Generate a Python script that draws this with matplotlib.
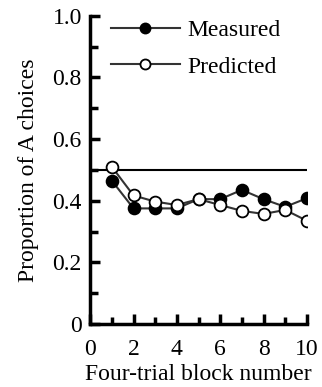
import matplotlib
matplotlib.use("Agg")
import matplotlib.pyplot as plt
from matplotlib.ticker import MultipleLocator

blocks = [1, 2, 3, 4, 5, 6, 7, 8, 9, 10]
measured = [0.465, 0.375, 0.375, 0.375, 0.405, 0.405, 0.435, 0.405, 0.38, 0.408]
predicted = [0.51, 0.417, 0.397, 0.386, 0.405, 0.386, 0.367, 0.357, 0.37, 0.335]
chance_x = [0, 10]
chance_y = [0.5, 0.5]
ytick_vals = [0, 0.2, 0.4, 0.6, 0.8, 1.0]
ytick_labels = ['0', '0.2', '0.4', '0.6', '0.8', '1.0']

plt.rcParams['font.family'] = ['Liberation Serif', 'DejaVu Serif']
plt.rcParams['font.size'] = 17

fig = plt.figure(figsize=(3.22, 3.87), dpi=100)
ax = fig.add_axes([0.28, 0.163, 0.673, 0.796])

ax.plot(chance_x, chance_y, color='black', lw=1.5, zorder=2)
ax.plot(blocks, measured, color='#333333', lw=1.5, marker='o', ms=8.5,
        mfc='black', mec='black', mew=1.3, zorder=3, label='Measured')
ax.plot(blocks, predicted, color='#333333', lw=1.5, marker='o', ms=8.5,
        mfc='white', mec='black', mew=1.3, zorder=4, label='Predicted')

ax.set_xlim(0, 10)
ax.set_ylim(0, 1.0)
ax.xaxis.set_major_locator(MultipleLocator(2))
ax.xaxis.set_minor_locator(MultipleLocator(1))
ax.set_yticks(ytick_vals)
ax.set_yticklabels(ytick_labels)
ax.yaxis.set_minor_locator(MultipleLocator(0.1))

for s in ['top', 'right']:
    ax.spines[s].set_visible(False)
for s in ['left', 'bottom']:
    ax.spines[s].set_linewidth(2.5)

ax.tick_params(axis='both', which='major', direction='in', length=7, width=2.5)
ax.tick_params(axis='x', which='major', pad=11)
ax.tick_params(axis='y', which='major', pad=6)
ax.tick_params(axis='x', which='minor', direction='in', length=5, width=2.5)
ax.tick_params(axis='y', which='minor', direction='in', length=6, width=2.5)

ax.set_xlabel('Four-trial block number', labelpad=3)
ax.set_ylabel('Proportion of A choices', labelpad=9.5)

leg = ax.legend(loc='upper left', bbox_to_anchor=(0.097, 0.987), frameon=False,
                handlelength=2.9, handletextpad=0.34, labelspacing=0.62,
                markerscale=0.85, borderaxespad=0, borderpad=0)

fig.savefig('out.png', dpi=100)
